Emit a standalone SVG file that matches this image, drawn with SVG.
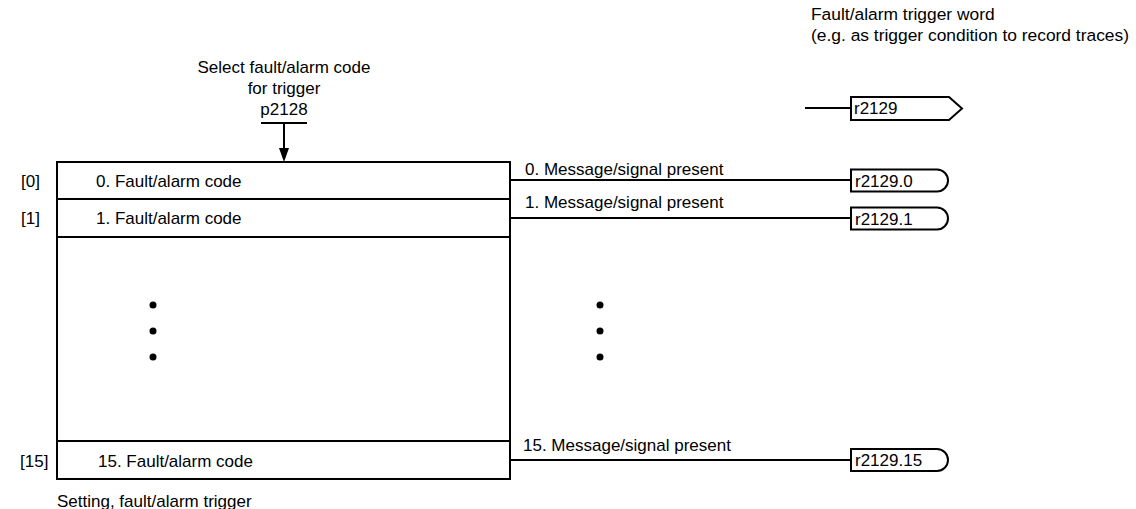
<svg xmlns="http://www.w3.org/2000/svg" width="1136" height="509" viewBox="0 0 1136 509">
<style>
text{font-family:"Liberation Sans",Arial,sans-serif;font-size:17px;fill:#000}
.ln{stroke:#000;stroke-width:2;fill:none}
.bx{stroke:#000;stroke-width:2;fill:#fff}
.dot{fill:#000}
.tw{font-size:17.4px}
</style>
<rect width="1136" height="509" fill="#fff"/>

<g id="title-select">
<text x="284" y="73" text-anchor="middle">Select fault/alarm code</text>
<text x="284" y="94" text-anchor="middle">for trigger</text>
<text x="284" y="115" text-anchor="middle">p2128</text>
<line class="ln" x1="261" y1="123" x2="307" y2="123"/>
</g>

<g id="title-word">
<text class="tw" x="811" y="20">Fault/alarm trigger word</text>
<text class="tw" x="811" y="41">(e.g. as trigger condition to record traces)</text>
</g>

<g id="param-box">
<rect class="bx" x="57" y="162" width="453" height="317"/>
<line class="ln" x1="57" y1="199" x2="510" y2="199"/>
<line class="ln" x1="57" y1="237" x2="510" y2="237"/>
<line class="ln" x1="57" y1="441" x2="510" y2="441"/>
<text x="21" y="187">[0]</text>
<text x="96" y="187">0. Fault/alarm code</text>
<text x="21" y="224">[1]</text>
<text x="96" y="224">1. Fault/alarm code</text>
<text x="20" y="467">[15]</text>
<text x="98" y="467">15. Fault/alarm code</text>
<circle class="dot" cx="153" cy="305" r="3.5"/>
<circle class="dot" cx="153" cy="331" r="3.5"/>
<circle class="dot" cx="153" cy="357" r="3.5"/>
<text x="57" y="507">Setting, fault/alarm trigger</text>
</g>

<g id="connectors">
<line class="ln" x1="284" y1="123" x2="284" y2="149"/>
<path d="M279,148 L289,148 L284,162 Z" fill="#000"/>
<line class="ln" x1="510" y1="180" x2="851" y2="180"/>
<line class="ln" x1="510" y1="218" x2="851" y2="218"/>
<line class="ln" x1="510" y1="460" x2="851" y2="460"/>
<line class="ln" x1="805" y1="108" x2="851" y2="108"/>
</g>

<g id="signal-labels">
<text x="525" y="175">0. Message/signal present</text>
<text x="525" y="208">1. Message/signal present</text>
<text x="523" y="451">15. Message/signal present</text>
<circle class="dot" cx="600" cy="305" r="3.5"/>
<circle class="dot" cx="600" cy="331" r="3.5"/>
<circle class="dot" cx="600" cy="357" r="3.5"/>
</g>

<g id="r2129">
<path class="bx" d="M851,97 H949 L962,108.5 L949,120 H851 Z"/>
<text x="854" y="114">r2129</text>
</g>
<g id="r2129-0">
<path class="bx" d="M851,169.5 H937 A11,11 0 0 1 937,191.5 H851 Z"/>
<text x="855" y="187">r2129.0</text>
</g>
<g id="r2129-1">
<path class="bx" d="M851,207.5 H937 A11,11 0 0 1 937,229.5 H851 Z"/>
<text x="855" y="225">r2129.1</text>
</g>
<g id="r2129-15">
<path class="bx" d="M851,449 H937 A11,11 0 0 1 937,471 H851 Z"/>
<text x="855" y="466">r2129.15</text>
</g>
</svg>
